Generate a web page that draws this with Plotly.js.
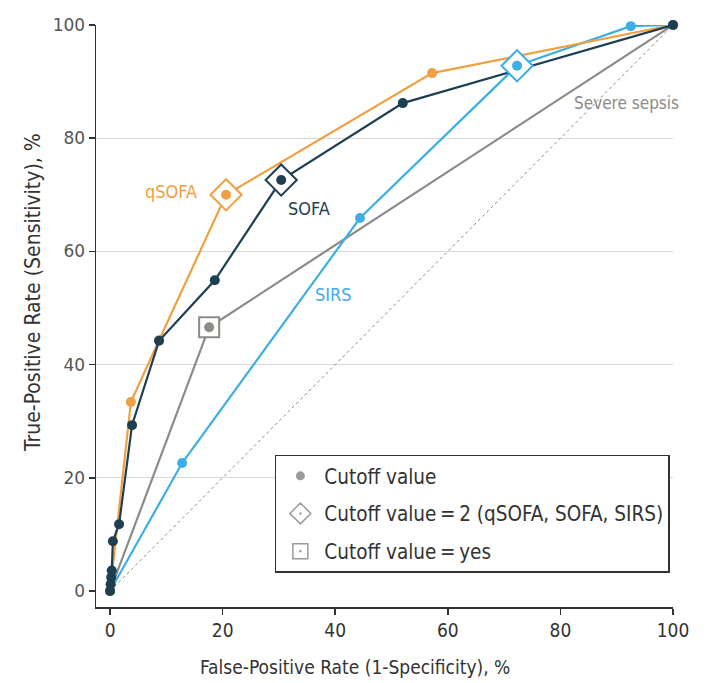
<!DOCTYPE html>
<html>
<head>
<meta charset="utf-8">
<script src="https://cdn.plot.ly/plotly-3.0.1.min.js"></script>
<style>html,body{margin:0;padding:0;background:#fff;}#chart{width:706px;height:683px;}</style>
</head>
<body>
<div id="chart"></div>
<script>
// ---- data (False-positive rate %, True-positive rate %) ----
var qsofaFPR = [0, 3.7, 8.7, 20.6, 57.2, 100];
var qsofaTPR = [0, 33.4, 44.3, 70.0, 91.5, 100];
var qsofaCut2Index = 3;

var sofaFPR = [0, 0.1, 0.2, 0.3, 0.5, 1.6, 3.9, 8.7, 18.6, 30.4, 52.0, 100];
var sofaTPR = [0, 1.2, 2.4, 3.6, 8.8, 11.8, 29.3, 44.2, 54.9, 72.6, 86.2, 100];
var sofaCut2Index = 9;

var sirsFPR = [0, 12.8, 44.4, 72.3, 92.5, 100];
var sirsTPR = [0, 22.6, 65.9, 92.8, 99.8, 100];
var sirsCut2Index = 3;

var sepsisFPR = [0, 17.6, 100];
var sepsisTPR = [0, 46.6, 100];
var sepsisYesIndex = 1;

var refLine = [0, 100];

var xTicks = [0, 20, 40, 60, 80, 100];
var yTicks = [0, 20, 40, 60, 80, 100];
var gridTicks = [20, 40, 60, 80, 100];

var cOrange = '#F0A043', cDark = '#1E3F52', cBlue = '#3DAEE6', cGrey = '#8E8A86';
var narrow = '"DejaVu Sans Condensed", "Liberation Sans Narrow", sans-serif';

function series(x, y, color, name) {
  return {x: x, y: y, type: 'scatter', mode: 'lines+markers', name: name, showlegend: false,
    cliponaxis: false, hoverinfo: 'skip',
    line: {color: color, width: 2.2}, marker: {color: color, size: 10}};
}
function special(x, y, idx, color, symbol, size) {
  return [
    {x: [x[idx]], y: [y[idx]], type: 'scatter', mode: 'markers', showlegend: false, cliponaxis: false,
      hoverinfo: 'skip',
      marker: {symbol: symbol, size: size, color: '#ffffff', line: {color: color, width: 2}}},
    {x: [x[idx]], y: [y[idx]], type: 'scatter', mode: 'markers', showlegend: false, cliponaxis: false,
      hoverinfo: 'skip', marker: {symbol: 'circle', size: 10, color: color}}
  ];
}

var data = [
  {x: [null], y: [null], yaxis: 'y2', type: 'scatter', mode: 'markers', showlegend: false, hoverinfo: 'skip'},
  {x: refLine, y: refLine, type: 'scatter', mode: 'lines', showlegend: false, hoverinfo: 'skip',
    line: {color: '#8a8a8a', width: 1, dash: 'dot'}},
  series(sepsisFPR, sepsisTPR, cGrey, 'Severe sepsis'),
  series(sirsFPR, sirsTPR, cBlue, 'SIRS'),
  series(qsofaFPR, qsofaTPR, cOrange, 'qSOFA'),
  series(sofaFPR, sofaTPR, cDark, 'SOFA')
];
data = data.concat(special(qsofaFPR, qsofaTPR, qsofaCut2Index, cOrange, 'diamond', 24));
data = data.concat(special(sofaFPR, sofaTPR, sofaCut2Index, cDark, 'diamond', 24));
data = data.concat(special(sirsFPR, sirsTPR, sirsCut2Index, cBlue, 'diamond', 24));
data = data.concat(special(sepsisFPR, sepsisTPR, sepsisYesIndex, cGrey, 'square', 20));

// legend entries
data.push({x: [null], y: [null], type: 'scatter', mode: 'markers', name: 'Cutoff value',
  legendgroup: 'a', marker: {symbol: 'circle', size: 9, color: '#9a9a9a'}});
data.push({x: [null], y: [null], type: 'scatter', mode: 'markers', name: 'Cutoff value\u2009=\u20092 (qSOFA, SOFA, SIRS)',
  legendgroup: 'b', marker: {symbol: 'diamond-dot', size: 16, color: '#ffffff', line: {color: '#9a9a9a', width: 1.5}}});
data.push({x: [null], y: [null], type: 'scatter', mode: 'markers', name: 'Cutoff value\u2009=\u2009yes',
  legendgroup: 'c', marker: {symbol: 'square-dot', size: 15, color: '#ffffff', line: {color: '#9a9a9a', width: 1.5}}});

var plotTop = 25, plotBottom = 607, plotLeft = 96, plotRight = 673;
function py(pixel) { return (plotBottom - pixel) / (plotBottom - plotTop); }
function px(pixel) { return (pixel - plotLeft) / (plotRight - plotLeft); }

var layout = {
  width: 706, height: 683,
  margin: {l: 96, r: 33, t: 25, b: 76},
  paper_bgcolor: '#ffffff', plot_bgcolor: '#ffffff',
  showlegend: true,
  legend: {x: 0.31, y: 0.262, xanchor: 'left', yanchor: 'top', bgcolor: '#ffffff',
    bordercolor: '#333333', borderwidth: 1.5, tracegroupgap: 8,
    font: {family: narrow, size: 20.5, color: '#333333'}, itemwidth: 38},
  xaxis: {range: [-2.5, 100], tickvals: xTicks, ticktext: xTicks.map(String), showgrid: false, zeroline: false,
    showline: true, linecolor: '#333333', linewidth: 1.5, ticks: 'outside', ticklen: 6, tickcolor: '#333333',
    tickwidth: 1.5,
    tickfont: {family: narrow, size: 19, color: '#333333'}},
  yaxis: {range: [-2.83, 100], tickvals: yTicks, ticktext: yTicks.map(String), showgrid: false, zeroline: false,
    showline: true, linecolor: '#333333', linewidth: 1.5, ticks: 'outside', ticklen: 6, tickcolor: '#333333',
    tickwidth: 1.5,
    tickfont: {family: 'DejaVu Sans, sans-serif', size: 17, color: '#555555'}},
  yaxis2: {range: [-2.83, 100], overlaying: 'y', tickvals: gridTicks, showgrid: true, gridcolor: '#d9d9d9', gridwidth: 1,
    showticklabels: false, ticks: '', zeroline: false, showline: false},
  annotations: [
    {x: px(355), y: py(667), xref: 'paper', yref: 'paper', yanchor: 'middle', text: 'False-Positive Rate (1-Specificity), %',
      showarrow: false, font: {family: narrow, size: 19, color: '#333333'}},
    {x: px(33), y: py(293), xref: 'paper', yref: 'paper', xanchor: 'center', yanchor: 'middle', textangle: -90,
      text: 'True-Positive Rate (Sensitivity), %', showarrow: false, font: {family: narrow, size: 21, color: '#333333'}},
    {x: 10.9, y: 70.5, xref: 'x', yref: 'y', text: 'qSOFA', showarrow: false, font: {family: narrow, size: 18, color: cOrange}},
    {x: 35.3, y: 67.5, xref: 'x', yref: 'y', text: 'SOFA', showarrow: false, font: {family: narrow, size: 18, color: cDark}},
    {x: 39.7, y: 52.3, xref: 'x', yref: 'y', text: 'SIRS', showarrow: false, font: {family: narrow, size: 18, color: cBlue}},
    {x: 91.7, y: 86.2, xref: 'x', yref: 'y', text: 'Severe sepsis', showarrow: false, font: {family: narrow, size: 17, color: cGrey}}
  ]
};

Plotly.newPlot('chart', data, layout, {displayModeBar: false, staticPlot: true});
</script>
</body>
</html>
